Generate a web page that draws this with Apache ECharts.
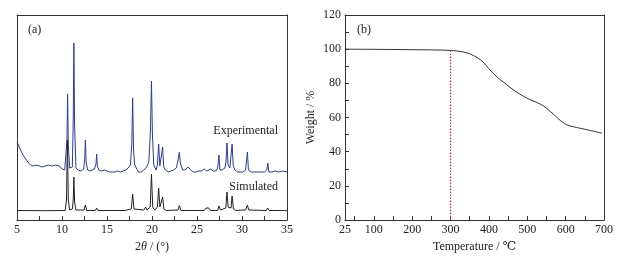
<!DOCTYPE html>
<html>
<head>
<meta charset="utf-8">
<script src="https://cdn.jsdelivr.net/npm/echarts@6/dist/echarts.min.js"></script>
<style>
  html, body { margin: 0; padding: 0; background: #fff; }
  #main { width: 633px; height: 259px; }
</style>
</head>
<body>
<div id="main"></div>
<script>
// (a) XRD 2theta / intensity (relative, offset)
var experimental = [
    [5.0, 78], [5.3, 72], [5.6, 66], [5.9, 62], [6.2, 58], [6.5, 55], [6.8, 54], [7.1, 55], [7.3, 56],
    [7.5, 54], [7.8, 53], [8.1, 54], [8.3, 53], [8.5, 55], [8.7, 53], [8.9, 54], [9.1, 53], [9.3, 55],
    [9.5, 53], [9.7, 54], [10.0, 51], [10.3, 50],
    [10.45, 52], [10.55, 80], [10.62, 126], [10.7, 75], [10.85, 52],
    [11.0, 51], [11.15, 53], [11.25, 100], [11.32, 177], [11.4, 95], [11.55, 52],
    [11.8, 50], [12.1, 49], [12.4, 51], [12.52, 60], [12.6, 80], [12.68, 58], [12.85, 50],
    [13.1, 49], [13.3, 50], [13.6, 51], [13.78, 56], [13.85, 66], [13.93, 54], [14.1, 50],
    [14.4, 49], [14.7, 50], [15.0, 49], [15.3, 48], [15.6, 48], [15.9, 48], [16.2, 49], [16.5, 48],
    [16.8, 49], [17.1, 50], [17.35, 52], [17.6, 55], [17.75, 75], [17.85, 122], [17.95, 70],
    [18.08, 55], [18.25, 52], [18.5, 48], [18.8, 48], [19.1, 50], [19.4, 53], [19.65, 58],
    [19.83, 90], [19.94, 139], [20.05, 85], [20.2, 55], [20.45, 50], [20.6, 55], [20.74, 76],
    [20.87, 54], [21.0, 56], [21.18, 73], [21.3, 53], [21.5, 50], [21.8, 48], [22.1, 49],
    [22.4, 50], [22.7, 52], [22.9, 60], [23.04, 68], [23.15, 57], [23.4, 50], [23.7, 50],
    [24.0, 53], [24.3, 50], [24.6, 48], [24.9, 48], [25.2, 49], [25.5, 49], [25.8, 51], [26.1, 49],
    [26.5, 51], [26.8, 49], [27.1, 49], [27.3, 52], [27.44, 65], [27.55, 50], [27.8, 50], [28.1, 52],
    [28.22, 58], [28.33, 77], [28.45, 55], [28.65, 52], [28.9, 76], [29.02, 55], [29.2, 50],
    [29.5, 48], [29.8, 48], [30.1, 48], [30.4, 50], [30.6, 68], [30.72, 50], [31.0, 48], [31.4, 48],
    [31.8, 48], [32.2, 48], [32.5, 48], [32.75, 50], [32.87, 57], [32.98, 48], [33.3, 48],
    [33.7, 49], [34.1, 48], [34.5, 49], [35.0, 48]
];
var simulated = [
    [5.0, 9.5], [8.0, 9.3], [10.35, 9.5], [10.5, 20], [10.6, 80], [10.7, 20], [10.85, 10],
    [11.15, 11], [11.25, 20], [11.32, 43], [11.4, 18], [11.55, 10], [12.45, 10], [12.6, 15],
    [12.75, 9.5], [13.7, 9.5], [13.85, 12], [14.0, 9.5], [17.0, 9.5], [17.7, 11], [17.85, 26],
    [18.0, 11], [18.2, 9.5], [19.1, 10], [19.3, 13], [19.45, 10], [19.8, 13], [19.94, 46],
    [20.08, 13], [20.3, 10], [20.6, 13], [20.74, 32], [20.88, 13], [21.05, 14], [21.18, 23],
    [21.32, 11], [21.6, 9.5], [22.9, 10], [23.04, 14.5], [23.2, 9.5], [25.8, 9.5], [26.0, 12],
    [26.15, 10.5], [26.3, 12], [26.5, 9.5], [27.3, 9.5], [27.44, 14], [27.6, 10], [28.2, 12],
    [28.33, 28], [28.46, 13], [28.6, 11], [28.78, 12], [28.9, 24], [29.05, 11], [29.3, 9.5],
    [30.1, 10], [30.25, 11.5], [30.4, 10], [30.6, 15], [30.75, 10], [32.7, 9.5], [32.85, 12],
    [33.0, 9.5], [34.4, 9.5], [34.55, 11], [34.7, 9.5], [35.0, 9.3]
];

// (b) TGA temperature / weight %
var tga = [
    [25, 100], [100, 99.9], [200, 99.7], [300, 99.3], [330, 98.5], [350, 97.3], [370, 95],
    [385, 92.5], [400, 88.5], [415, 85], [430, 82], [445, 79.5], [463, 76.3], [480, 73.8],
    [497, 71.6], [510, 70.2], [525, 68.8], [542, 66.8], [555, 64.5], [568, 62], [580, 59.5],
    [592, 57.2], [603, 55.7], [620, 54.6], [638, 53.7], [660, 52.6], [680, 51.6], [695, 50.8]
];
var onsetLine = [[300, 0], [300, 99.3]];

var tempLabels = [25, 100, 200, 300, 400, 500, 600, 700];
var tempTicks = [50, 100, 150, 200, 250, 300, 350, 400, 450, 500, 550, 600, 650, 700];

var FONT = '"Liberation Serif", "DejaVu Serif", serif';
var AX = '#333';
var lbl = { color: '#222', fontFamily: FONT, fontSize: 12 };

// axis used only to close the plot frame
function frameAxis(idx, pos, min, max) {
    return {
        gridIndex: idx, position: pos, type: 'value', min: min, max: max,
        axisLine: { show: true, onZero: false, lineStyle: { color: AX, width: 1 } },
        axisTick: { show: false }, axisLabel: { show: false }, splitLine: { show: false }
    };
}

var myChart = echarts.init(document.getElementById('main'));

var option = {
    animation: false,
    backgroundColor: '#fff',
    grid: [
        { left: 17, right: 346, top: 15, bottom: 39 },
        { left: 345, right: 29, top: 15, bottom: 39 }
    ],
    xAxis: [
        {
            gridIndex: 0, type: 'value', min: 5, max: 35, interval: 5, position: 'bottom',
            axisLine: { show: true, onZero: false, lineStyle: { color: AX, width: 1 } },
            axisTick: { show: true, inside: true, length: 4, lineStyle: { color: AX } },
            minorTick: { show: true, splitNumber: 2, length: 4, lineStyle: { color: AX } },
            axisLabel: Object.assign({ margin: 4 }, lbl),
            splitLine: { show: false },
            name: '2{i|θ} / (°)', nameLocation: 'middle', nameGap: 20,
            nameTextStyle: {
                color: '#222', fontFamily: FONT, fontSize: 12,
                rich: { i: { fontStyle: 'italic', fontFamily: FONT, fontSize: 12, color: '#222' } }
            }
        },
        frameAxis(0, 'top', 5, 35),
        {
            gridIndex: 1, type: 'value', min: 25, max: 700, position: 'bottom',
            axisLine: { show: true, onZero: false, lineStyle: { color: AX, width: 1 } },
            axisTick: { show: true, inside: true, length: 4, customValues: tempTicks, lineStyle: { color: AX } },
            axisLabel: Object.assign({ margin: 4, customValues: tempLabels }, lbl),
            splitLine: { show: false },
            name: 'Temperature / ℃', nameLocation: 'middle', nameGap: 20,
            nameTextStyle: { color: '#222', fontFamily: FONT, fontSize: 12 }
        },
        frameAxis(1, 'top', 25, 700)
    ],
    yAxis: [
        frameAxis(0, 'left', 0, 205),
        frameAxis(0, 'right', 0, 205),
        {
            gridIndex: 1, type: 'value', min: 0, max: 120, interval: 20, position: 'left',
            axisLine: { show: true, onZero: false, lineStyle: { color: AX, width: 1 } },
            axisTick: { show: true, inside: true, length: 4, lineStyle: { color: AX } },
            minorTick: { show: true, splitNumber: 2, length: 4, lineStyle: { color: AX } },
            axisLabel: Object.assign({ margin: 4 }, lbl),
            splitLine: { show: false },
            name: 'Weight / %', nameLocation: 'middle', nameRotate: 90, nameGap: 28,
            nameTextStyle: { color: '#222', fontFamily: FONT, fontSize: 12 }
        },
        frameAxis(1, 'right', 0, 120)
    ],
    series: [
        {
            name: 'Experimental', type: 'line', xAxisIndex: 0, yAxisIndex: 0,
            data: experimental, showSymbol: false, smooth: false,
            lineStyle: { color: '#2a3d9c', width: 1 }
        },
        {
            name: 'Simulated', type: 'line', xAxisIndex: 0, yAxisIndex: 0,
            data: simulated, showSymbol: false,
            lineStyle: { color: '#222', width: 1 }
        },
        {
            name: 'onset', type: 'line', xAxisIndex: 2, yAxisIndex: 2,
            data: onsetLine, showSymbol: false,
            lineStyle: { color: '#ff1f4a', width: 1.2, type: [1.5, 1.5] }
        },
        {
            name: 'TGA', type: 'line', xAxisIndex: 2, yAxisIndex: 2,
            data: tga, showSymbol: false, smooth: 0.3,
            lineStyle: { color: '#333', width: 1 }
        }
    ],
    graphic: [
        { type: 'text', left: 28, top: 24, style: { text: '(a)', font: '12px ' + FONT, fill: '#222' } },
        { type: 'text', left: 357, top: 24, style: { text: '(b)', font: '12px ' + FONT, fill: '#222' } },
        { type: 'text', right: 355, top: 125, style: { text: 'Experimental', font: '12px ' + FONT, fill: '#222' } },
        { type: 'text', right: 355, top: 181, style: { text: 'Simulated', font: '12px ' + FONT, fill: '#222' } }
    ]
};

myChart.setOption(option);
</script>
</body>
</html>
